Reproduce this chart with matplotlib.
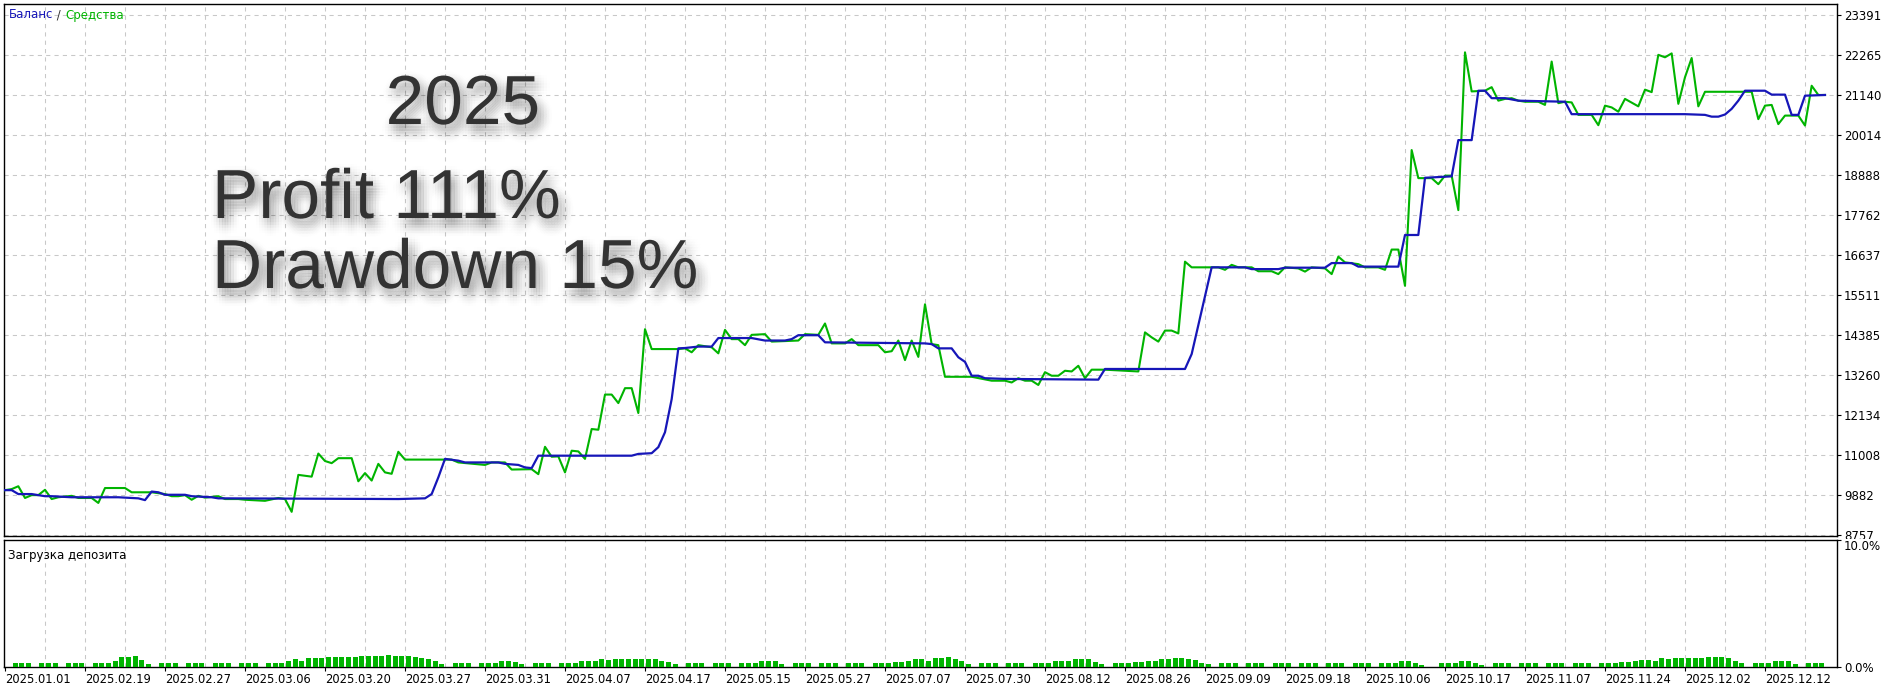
import numpy as np
import matplotlib
matplotlib.use('Agg')
import matplotlib.pyplot as plt
import matplotlib.patheffects as pe
from matplotlib.patches import Rectangle

# x axis is the tester's point index, labelled with dates every 12 points
dates = ['2025.01.01', '2025.02.19', '2025.02.27', '2025.03.06', '2025.03.20',
         '2025.03.27', '2025.03.31', '2025.04.07', '2025.04.17', '2025.05.15',
         '2025.05.27', '2025.07.07', '2025.07.30', '2025.08.12', '2025.08.26',
         '2025.09.09', '2025.09.18', '2025.10.06', '2025.10.17', '2025.11.07',
         '2025.11.24', '2025.12.02', '2025.12.12']

y_ticks = [8757, 9882, 11008, 12134, 13260, 14385, 15511, 16637,
           17762, 18888, 20014, 21140, 22265, 23391]

# equity (Средства)
eq_idx = [0, 1, 2, 3, 4, 5, 6, 7, 8, 10, 11, 13, 14, 15, 18, 19, 22, 24, 25, 26,
          27, 28, 29, 30, 32, 33, 35, 36, 39, 41, 42, 43, 44, 46, 47, 48, 49, 50,
          52, 53, 54, 55, 56, 57, 58, 59, 60, 67, 68, 72, 73, 75, 76, 79, 80, 81,
          82, 83, 84, 85, 86, 87, 88, 89, 90, 91, 92, 93, 94, 95, 96, 97, 101, 102,
          103, 104, 106, 107, 108, 109, 110, 111, 112, 114, 115, 119, 120, 122,
          123, 124, 126, 127, 128, 131, 132, 133, 134, 135, 136, 137, 138, 139,
          140, 141, 145, 148, 150, 151, 152, 153, 154, 155, 156, 157, 158, 159,
          160, 161, 162, 163, 165, 170, 171, 172, 173, 174, 175, 176, 177, 178,
          182, 183, 184, 185, 187, 188, 190, 191, 192, 194, 195, 196, 198, 199,
          200, 201, 203, 204, 206, 207, 208, 209, 210, 211, 212, 214, 215, 216,
          217, 218, 219, 220, 222, 223, 224, 225, 226, 227, 228, 230, 231, 232,
          233, 234, 235, 236, 238, 239, 240, 241, 242, 243, 245, 246, 247, 248,
          249, 250, 251, 252, 253, 254, 255, 262, 263, 264, 265, 266, 267, 269,
          270, 271, 272, 273]
eq_val = [10020, 10050, 10130, 9800, 9880, 9880, 10030, 9770, 9820, 9860, 9800,
          9800, 9660, 10080, 10080, 9960, 9960, 9910, 9850, 9850, 9880, 9750, 9860,
          9810, 9850, 9770, 9770, 9750, 9720, 9800, 9770, 9410, 10450, 10400, 11050,
          10840, 10780, 10920, 10920, 10270, 10500, 10290, 10760, 10520, 10480,
          11100, 10880, 10880, 10800, 10730, 10800, 10800, 10600, 10610, 10470,
          11240, 10960, 10970, 10520, 11130, 11110, 10900, 11740, 11720, 12710,
          12710, 12470, 12890, 12890, 12190, 14550, 13990, 13990, 14010, 13900,
          14100, 14040, 13870, 14530, 14270, 14270, 14100, 14390, 14410, 14200,
          14230, 14410, 14390, 14710, 14150, 14150, 14270, 14100, 14100, 13900,
          13930, 14230, 13680, 14230, 13770, 15250, 14130, 14100, 13210, 13210,
          13100, 13100, 13050, 13170, 13100, 13100, 12980, 13340, 13240, 13240,
          13380, 13360, 13520, 13170, 13410, 13410, 13360, 14460, 14320, 14200,
          14510, 14510, 14430, 16450, 16290, 16290, 16220, 16360, 16290, 16290,
          16180, 16180, 16100, 16290, 16260, 16170, 16290, 16260, 16100, 16590,
          16430, 16380, 16290, 16290, 16220, 16790, 16790, 15770, 19590, 18800,
          18800, 18630, 18870, 18870, 17900, 22340, 21240, 21260, 21360, 20980,
          21030, 21050, 20980, 20950, 20950, 20860, 22080, 20910, 20950, 20930,
          20580, 20580, 20290, 20840, 20790, 20670, 21030, 20820, 21290, 21220,
          22270, 22200, 22310, 20890, 21640, 22180, 20820, 21230, 21230, 20460,
          20840, 20860, 20320, 20560, 20560, 20280, 21400, 21140, 21140]

# balance (Баланс)
bal_idx = [0, 1, 2, 4, 6, 7, 10, 17, 20, 21, 22, 23, 24, 27, 28, 29, 31, 32, 59,
           63, 64, 65, 66, 68, 69, 74, 75, 77, 78, 79, 80, 94, 95, 97, 98, 99, 100,
           101, 102, 104, 106, 107, 112, 114, 117, 118, 119, 122, 123, 138, 139,
           140, 142, 143, 144, 145, 146, 147, 150, 164, 165, 177, 178, 181, 186,
           187, 191, 192, 198, 199, 202, 203, 209, 210, 212, 213, 217, 218, 220,
           221, 222, 223, 225, 227, 234, 235, 252, 255, 256, 257, 258, 259, 260,
           261, 264, 265, 267, 268, 269, 270, 273]
bal_val = [10020, 10020, 9910, 9910, 9850, 9850, 9820, 9820, 9790, 9740, 9980,
           9960, 9890, 9890, 9850, 9840, 9820, 9790, 9770, 9790, 9910, 10380, 10900,
           10850, 10800, 10800, 10760, 10730, 10660, 10640, 10990, 10990, 11040,
           11060, 11230, 11650, 12580, 14010, 14020, 14060, 14060, 14300, 14300,
           14230, 14230, 14270, 14380, 14380, 14180, 14150, 14130, 14010, 14010,
           13760, 13630, 13240, 13240, 13170, 13150, 13130, 13430, 13430, 13850,
           16290, 16290, 16240, 16240, 16280, 16280, 16410, 16410, 16310, 16310,
           17200, 17200, 18810, 18850, 19870, 19870, 21260, 21260, 21050, 21050,
           20980, 20950, 20600, 20600, 20580, 20530, 20530, 20590, 20750, 20980,
           21260, 21260, 21150, 21150, 20580, 20580, 21120, 21140]

# deposit load, %, one value per point (0 = no bar)
load = [0, .28, .28, .28, 0, .28, .28, .28, 0, .28, .28, .28, 0, .28, .28, .35,
        .5, .75, .75, .85, .55, .25, 0, .28, .28, .28, 0, .28, .28, .28, 0, .28,
        .28, .28, 0, .28, .28, .28, 0, .28, .28, .28, .5, .6, .5, .7, .7, .7, .75,
        .75, .75, .8, .8, .85, .85, .85, .85, .95, .9, .9, .85, .8, .7, .6, .5, .25,
        0, .28, .28, .28, 0, .28, .28, .28, .45, .45, .4, .2, 0, .28, .28, .28, 0,
        .28, .28, .28, .5, .5, .5, .6, .55, .6, .6, .6, .65, .65, .6, .6, .5, .4,
        .2, 0, .28, .28, .28, 0, .28, .3, .28, 0, .28, .28, .28, .45, .45, .45, .2,
        0, .28, .28, .28, 0, .28, .28, .28, 0, .28, .28, .28, 0, .28, .28, .28, .4,
        .4, .45, .6, .6, .5, .7, .7, .8, .6, .45, .25, 0, .28, .28, .28, 0, .28,
        .28, .28, 0, .28, .28, .28, .45, .45, .45, .6, .6, .6, .4, .25, 0, .28, .28,
        .28, .4, .4, .5, .5, .65, .65, .7, .7, .65, .55, .35, .2, 0, .28, .28, .28,
        0, .28, .28, .28, 0, .28, .28, .28, 0, .28, .3, .28, 0, .28, .3, .28, 0,
        .28, .28, .28, 0, .28, .28, .28, .45, .45, .3, .15, 0, 0, .28, .28, .28,
        .45, .45, .3, .15, 0, .28, .28, .28, 0, .28, .28, .28, 0, .28, .28, .28, 0,
        .28, .28, .28, 0, .28, .28, .28, .4, .4, .45, .55, .55, .5, .7, .65, .7, .7,
        .7, .7, .7, .8, .75, .75, .7, .5, .3, 0, .28, .28, .28, .45, .45, .45, .2,
        0, .28, .28, .28, 0]

BLUE = '#1616B8'
GREEN = '#00B400'
GRID = '#C8C8C8'

W, H = 1893, 689
fig = plt.figure(figsize=(W / 100, H / 100), dpi=100)
fig.patch.set_facecolor('white')


def box(l, t, r, b):
    return [l / W, 1 - b / H, (r - l) / W, (b - t) / H]


ax = fig.add_axes(box(4, 4, 1837, 536))
ax2 = fig.add_axes(box(4, 540, 1837, 667))
ax.set_zorder(0)
ax2.set_zorder(2)

xlim = (-0.15, 274.8)
vgrid = np.arange(6, 275, 6)

# --- top panel: balance / equity
ax.plot(eq_idx, eq_val, color=GREEN, lw=1.5, zorder=3)
ax.plot(bal_idx, bal_val, color=BLUE, lw=1.6, zorder=4)
ax.set_xlim(*xlim)
ax.set_ylim(8730, 23700)
ax.set_yticks(y_ticks)
ax.set_yticklabels([str(v) for v in y_ticks])
ax.yaxis.tick_right()
ax.tick_params(axis='y', direction='out', length=3, width=0.8, pad=2,
               labelsize=8.5, colors='black')
ax.set_xticks([])
ax.grid(True, axis='y', color=GRID, ls=(0, (4, 4)), lw=0.75, zorder=1)
for v in vgrid:
    ax.axvline(v, color=GRID, ls=(0, (4, 4)), lw=0.75, zorder=1)
for s in ax.spines.values():
    s.set_linewidth(1.0)
    s.set_color('black')

# --- bottom panel: deposit load
ax2.bar(np.arange(len(load)) + 0.5, load, width=0.75, color=GREEN, zorder=3)
ax2.set_xlim(*xlim)
ax2.set_ylim(0, 10)
ax2.yaxis.tick_right()
ax2.set_yticks([0, 10])
ax2.set_yticklabels(['0.0%', '10.0%'])
ax2.get_yticklabels()[1].set_va('top')
ax2.tick_params(axis='y', direction='out', length=3, width=0.8, pad=2,
                labelsize=8.5)
ax2.set_xticks(np.arange(0, 12 * len(dates), 12))
ax2.set_xticklabels(dates, ha='left', fontsize=8.3)
ax2.tick_params(axis='x', direction='out', length=3, width=0.8, pad=1)
for v in vgrid:
    ax2.axvline(v, color=GRID, ls=(0, (4, 4)), lw=0.75, zorder=1)
for s in ax2.spines.values():
    s.set_linewidth(1.0)
    s.set_color('black')

# hide the part of the last top label that runs into the lower panel
fig.add_artist(Rectangle((1838 / W, 0), 1 - 1838 / W, (H - 539) / H,
                         transform=fig.transFigure, facecolor='white',
                         edgecolor='none', zorder=1))

# panel captions
fig.canvas.draw()
r = fig.canvas.get_renderer()
x0 = 9
for txt, col in [('Баланс', BLUE), (' / ', '#333333'), ('Средства', GREEN)]:
    t = fig.text(x0 / W, 1 - 15 / H, txt, color=col, fontsize=8.5, va='center',
                 ha='left', zorder=5)
    x0 += t.get_window_extent(r).width
fig.text(8 / W, 1 - 555 / H, 'Загрузка депозита', fontsize=8.5, va='center',
         ha='left', color='black', zorder=5)

# big annotation text with a soft, blurred shadow
shadow = []
for dx in range(-5, 13, 2):
    for dy in range(-15, 5, 2):
        w = np.exp(-((dx - 3) ** 2 + (dy + 5) ** 2) / (2 * 4.0 ** 2))
        shadow.append(pe.SimplePatchShadow(offset=(dx, dy), shadow_rgbFace='black',
                                           alpha=0.022 * w))
shadow.append(pe.Normal())
big = dict(fontsize=50, family=['Liberation Sans', 'DejaVu Sans'],
           color='#333333', va='baseline', zorder=5, path_effects=shadow)
fig.text(463 / W, 1 - 124 / H, '2025', ha='center', **big)
fig.text(212 / W, 1 - 218 / H, 'Profit 111%', ha='left', **big)
fig.text(212 / W, 1 - 288 / H, 'Drawdown 15%', ha='left', **big)

fig.savefig('out.png', dpi=100, facecolor='white')
